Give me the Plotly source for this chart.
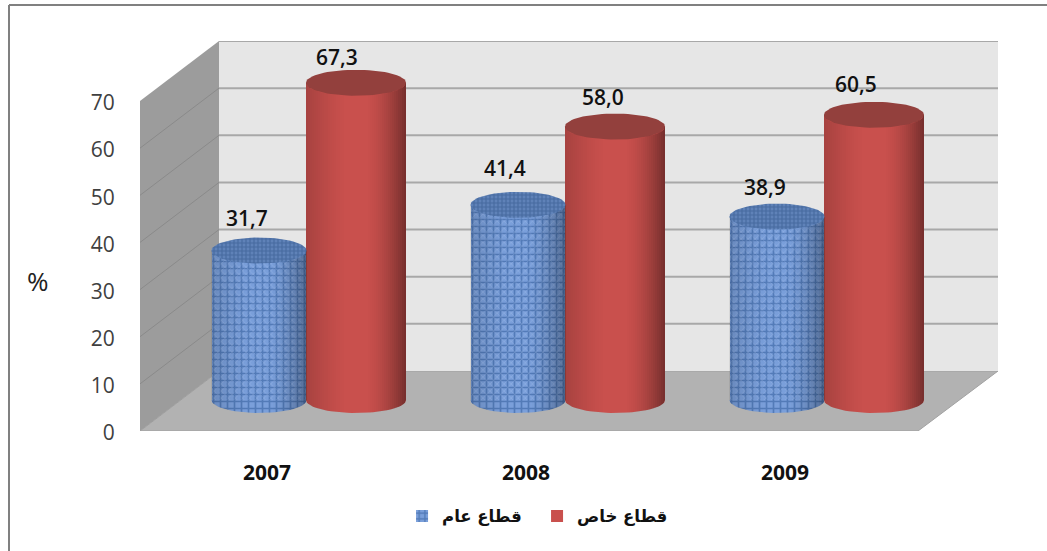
import numpy as np
import plotly.graph_objects as go

years = ["2007", "2008", "2009"]
series_names = ["قطاع عام", "قطاع خاص"]
public_sector = [31.7, 41.4, 38.9]
private_sector = [67.3, 58.0, 60.5]
public_labels = ["31,7", "41,4", "38,9"]
private_labels = ["67,3", "58,0", "60,5"]
y_ticks = [0, 10, 20, 30, 40, 50, 60, 70]

# label nudges in px
public_dx, public_dy = [-12, -13, -12], [-33, -37, -30]
private_dx, private_dy = [-19, -12, -18], [-26, -30, -31]

W, H = 1047, 551
L, R, T, B = 140, 998, 41, 431
PX_PER_UNIT = 330 / 70
PX_PER_CAT = 259
X0 = 267
def xd(px): return (px - X0) / PX_PER_CAT
def yd(px): return (B - px) / PX_PER_UNIT
def xp(px): return (px - L) / (R - L)
def yp(px): return (B - px) / (B - T)

depth_x = 79 / PX_PER_CAT
depth_y = 60 / PX_PER_UNIT
front_x0, front_x1 = xd(L), xd(918)
base = yd(400)
cap = 13 / PX_PER_UNIT
blue_off, blue_w = -8 / PX_PER_CAT, 95 / PX_PER_CAT
red_off, red_w = 89 / PX_PER_CAT, 100 / PX_PER_CAT
x_idx = np.arange(len(years))


def path(xs, ys):
    return "M" + " L".join(f"{a:.5f},{b:.5f}" for a, b in zip(xs, ys)) + " Z"


shapes = []
LINE0 = dict(width=0)
# floor, left wall, back wall
shapes.append(dict(type="path", layer="below", fillcolor="#b2b2b2", line=dict(color="#a0a0a0", width=1),
                   path=path([front_x0, front_x0 + depth_x, xd(R), front_x1], [0, depth_y, depth_y, 0])))
shapes.append(dict(type="path", layer="below", fillcolor="#9c9c9c", line=LINE0,
                   path=path([front_x0, front_x0 + depth_x, front_x0 + depth_x, front_x0],
                             [0, depth_y, 70 + depth_y, 70])))
shapes.append(dict(type="rect", layer="below", fillcolor="#e6e6e6", line=LINE0,
                   x0=front_x0 + depth_x, x1=xd(R), y0=depth_y, y1=70 + depth_y))
for v in y_ticks:
    if v > 0:
        shapes.append(dict(type="line", layer="below", line=dict(color="#a8a8a8", width=2),
                           x0=front_x0 + depth_x, x1=xd(R), y0=v + depth_y, y1=v + depth_y))
        if v < 70:
            shapes.append(dict(type="line", layer="below", line=dict(color="#8a8a8a", width=1),
                               x0=front_x0, x1=front_x0 + depth_x, y0=v, y1=v + depth_y))
# frame
shapes.append(dict(type="line", xref="paper", yref="paper", line=dict(color="#808080", width=2),
                   x0=xp(9), x1=xp(9), y0=yp(5), y1=yp(H)))
shapes.append(dict(type="line", xref="paper", yref="paper", line=dict(color="#808080", width=2),
                   x0=xp(9), x1=xp(W), y0=yp(5), y1=yp(5)))


def shade(t):
    # t in -1..1 across the cylinder: darkness towards both edges
    if t < -0.2:
        return 0.17 * ((-0.2 - t) / 0.8) ** 1.3
    if t > 0.2:
        return 0.42 * ((t - 0.2) / 0.8) ** 1.6
    return 0.0


def add_strips(cx, w, v, strength):
    n = int(round(w * PX_PER_CAT / 2))
    edges = np.linspace(-1, 1, n + 1)
    for a, b in zip(edges[:-1], edges[1:]):
        al = shade((a + b) / 2) * strength
        if al < 0.004:
            continue
        ts = np.linspace(a, b, 3)
        low = -cap * np.sqrt(np.clip(1 - ts ** 2, 0, 1))
        xs = cx + ts * w / 2
        px = list(xs) + list(xs[::-1])
        py = list(base + low) + list((base + v + low)[::-1])
        shapes.append(dict(type="path", layer="above", fillcolor=f"rgba(0,0,0,{al:.3f})",
                           line=LINE0, path=path(px, py)))


fig = go.Figure()
blue_pat = dict(shape="+", size=7, solidity=0.42, fgcolor="#2c5796", bgcolor="#7a9fda")
weave_pat = dict(shape="x", size=5, solidity=0.18, fgcolor="rgba(195,215,250,0.75)", bgcolor="rgba(0,0,0,0)")
blue_top = dict(shape="+", size=4, solidity=0.5, fgcolor="#2f5288", bgcolor="#5f82b8")

fig.add_trace(go.Bar(name=series_names[0], x=x_idx + blue_off, y=public_sector, base=base, width=blue_w,
                     marker=dict(color="#7a9fda", pattern=blue_pat, line=dict(width=0))))
fig.add_trace(go.Bar(x=x_idx + blue_off, y=public_sector, base=base, width=blue_w, showlegend=False,
                     hoverinfo="skip", marker=dict(color="rgba(0,0,0,0)", pattern=weave_pat, line=dict(width=0))))
fig.add_trace(go.Bar(name=series_names[1], x=x_idx + red_off, y=private_sector, base=base, width=red_w,
                     marker=dict(color="#c9504d", line=dict(width=0))))

th = np.linspace(0, 2 * np.pi, 73)
low = np.linspace(0, np.pi, 37)
for i in x_idx:
    bc, bv = i + blue_off, public_sector[i]
    rc, rv = i + red_off, private_sector[i]
    # bottom half caps
    fig.add_trace(go.Scatter(x=bc + blue_w / 2 * np.cos(low), y=base - cap * np.sin(low), mode="lines",
                             fill="toself", fillcolor="#7a9fda", fillpattern=blue_pat, line=dict(width=0),
                             showlegend=False, hoverinfo="skip"))
    fig.add_trace(go.Scatter(x=rc + red_w / 2 * np.cos(low), y=base - cap * np.sin(low), mode="lines",
                             fill="toself", fillcolor="#c9504d", line=dict(width=0),
                             showlegend=False, hoverinfo="skip"))
    # top caps
    fig.add_trace(go.Scatter(x=bc + blue_w / 2 * np.cos(th), y=base + bv + cap * np.sin(th), mode="lines",
                             fill="toself", fillcolor="#5f82b8", fillpattern=blue_top, line=dict(width=0),
                             showlegend=False, hoverinfo="skip"))
    fig.add_trace(go.Scatter(x=rc + red_w / 2 * np.cos(th), y=base + rv + cap * np.sin(th), mode="lines",
                             fill="toself", fillcolor="#93403d", line=dict(width=0),
                             showlegend=False, hoverinfo="skip"))
    add_strips(bc, blue_w, bv, 0.8)
    add_strips(rc, red_w, rv, 1.0)

annotations = []
label_font = dict(family="Open Sans", size=21, color="#111111", weight=600)
for i in x_idx:
    annotations.append(dict(x=i + blue_off, y=base + public_sector[i], text=public_labels[i], showarrow=False,
                            xshift=public_dx[i], yshift=-public_dy[i], font=label_font))
    annotations.append(dict(x=i + red_off, y=base + private_sector[i], text=private_labels[i], showarrow=False,
                            xshift=private_dx[i], yshift=-private_dy[i], font=label_font))
annotations.append(dict(xref="paper", yref="paper", x=xp(38), y=yp(281), text="%", showarrow=False,
                        xanchor="center", yanchor="middle",
                        font=dict(family="Open Sans", size=26, color="#222222")))

fig.update_layout(
    width=W, height=H, margin=dict(l=L, r=W - R, t=T, b=H - B, autoexpand=False),
    paper_bgcolor="white", plot_bgcolor="rgba(0,0,0,0)", barmode="overlay", bargap=0,
    shapes=shapes, annotations=annotations,
    xaxis=dict(range=[xd(L), xd(R)], tickmode="array", tickvals=list(x_idx), ticktext=years,
               showgrid=False, zeroline=False, showline=False, ticks="outside", ticklen=23,
               tickcolor="rgba(0,0,0,0)", tickfont=dict(family="Open Sans", size=21, color="#111111", weight=700)),
    yaxis=dict(range=[0, yd(T)], tickmode="array", tickvals=y_ticks, showgrid=False, zeroline=False,
               showline=False, ticks="outside", ticklen=20, tickcolor="rgba(0,0,0,0)", ticklabelshift=2,
               tickfont=dict(family="Open Sans", size=21, color="#404040")),
    legend=dict(orientation="h", xref="container", yref="container", x=0.384, y=0.063, xanchor="left",
                yanchor="middle", font=dict(family="DejaVu Sans", size=16.5, color="#111111", weight=700),
                entrywidth=90, entrywidthmode="pixels", tracegroupgap=0, bgcolor="rgba(0,0,0,0)"),
    showlegend=True,
)

fig.write_html("out.html", config=dict(displayModeBar=False),
               post_script="document.body.style.margin='0';document.body.style.overflow='hidden';")
